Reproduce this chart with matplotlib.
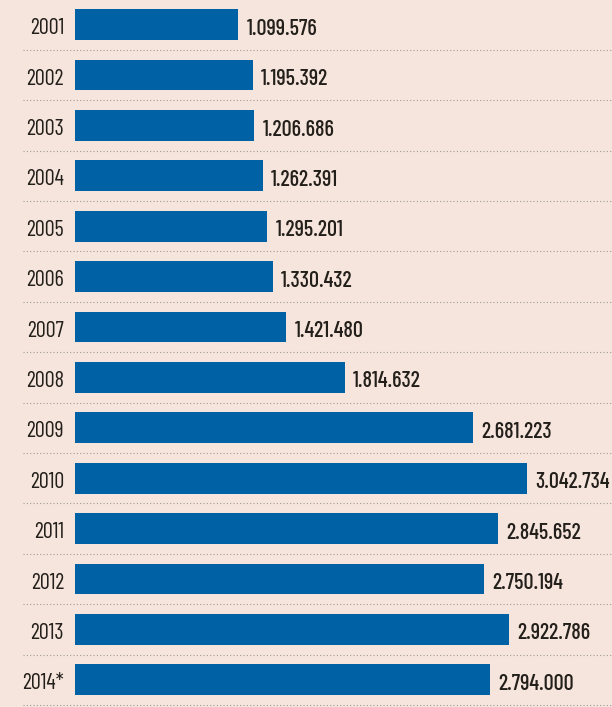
import matplotlib
matplotlib.use('Agg')
import matplotlib.pyplot as plt

DPI = 100
BG = '#f6e5dc'
BAR = '#0062a4'
TEXT = '#231f1a'
DOTS = '#9e9a98'
FONT = ['Barlow Condensed', 'DejaVu Sans']

years = ['2001', '2002', '2003', '2004', '2005', '2006', '2007',
         '2008', '2009', '2010', '2011', '2012', '2013', '2014*']
values = [1099576, 1195392, 1206686, 1262391, 1295201, 1330432, 1421480,
          1814632, 2681223, 3042734, 2845652, 2750194, 2922786, 2794000]


def fmt(v):
    # thousands separated with dots
    return '{:,}'.format(v).replace(',', '.')


def run():
    fig = plt.figure(figsize=(6.12, 7.07), dpi=DPI, facecolor=BG)
    ax = fig.add_axes([0, 0, 1, 1])
    ax.set_facecolor(BG)

    # 75 px left margin for the labels, bars scaled to the plot width
    px = 452.0 / max(values)
    ax.set_xlim(-75 / px, 537 / px)
    ax.set_ylim(len(years) - 0.46, -0.49)

    pos = list(range(len(years)))
    ax.barh(pos, values, height=0.61, color=BAR, edgecolor='none')

    for i, (year, v) in enumerate(zip(years, values)):
        ax.text(-11 / px, i + 0.08, year, ha='right', va='center',
                fontsize=16, color=TEXT, family=FONT)
        ax.annotate(fmt(v), (v, i + 0.08), xytext=(6, 0),
                    textcoords='offset points', ha='left', va='center',
                    fontsize=16, color=TEXT, family=FONT, fontweight=500)
        ax.plot([-52 / px, 537 / px], [i + 0.5, i + 0.5], color=DOTS,
                lw=0.8, linestyle=(0, (1, 2)), clip_on=False)

    ax.axis('off')
    fig.savefig('out.png', dpi=DPI, facecolor=BG)


if __name__ == '__main__':
    run()
